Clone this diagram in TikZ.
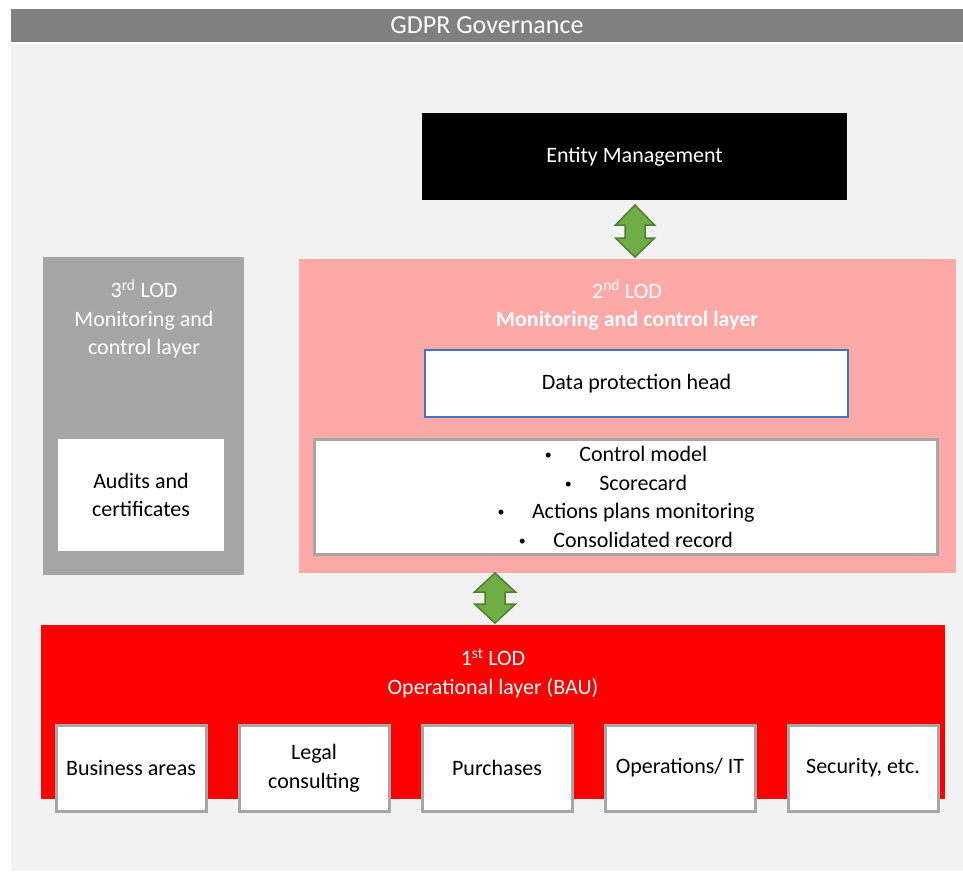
\documentclass[tikz,border=0pt]{standalone}
\usepackage{fontspec}
\setmainfont{Carlito}
\usetikzlibrary{positioning, calc}

\definecolor{titlegray}{HTML}{808080}
\definecolor{backgray}{HTML}{F2F2F2}
\definecolor{lodgray}{HTML}{A6A6A6}
\definecolor{lodpink}{HTML}{FFA8A8}
\definecolor{lodred}{HTML}{FF0000}
\definecolor{framegray}{HTML}{A6A6A6}
\definecolor{headblue}{HTML}{4472C4}
\definecolor{arrowgreen}{HTML}{70AD47}
\definecolor{arrowdark}{HTML}{507E32}

\newcommand{\taskdot}{\raisebox{2pt}{\fontsize{14}{14}\selectfont\textbullet}\hspace{1.25em}}

\begin{document}
\begin{tikzpicture}[x=1pt, y=-1pt,
        font=\fontsize{22}{28.5}\selectfont,
        layer/.style={rectangle, inner sep=0pt, outer sep=0pt, align=center},
        heading/.style={text=white, align=center},
        unit/.style={layer, fill=white, draw=framegray, line width=3pt,
            minimum width=150pt, minimum height=86pt},
        updown/.style={fill=arrowgreen, draw=arrowdark, line width=1.5pt}]
    \useasboundingbox (0,0) rectangle (963,871);

    % frame and title
    \node[layer, fill=backgray, minimum width=952pt, minimum height=827pt] (back) at (487, 457.5) {};
    \node[layer, fill=titlegray, text=white, minimum width=952pt, minimum height=33pt,
        font=\fontsize{26}{28}\selectfont] (title) at (487, 25.5) {GDPR Governance};

    % top management
    \node[layer, fill=black, text=white, minimum width=425pt, minimum height=87pt] (em) at (634.5, 156.5) {Entity Management};

    % 3rd line of defence
    \node[layer, fill=lodgray, minimum width=201pt, minimum height=318pt] (lod3) at (143.5, 416) {};
    \node[heading] (lod3t) at (144, 319) {3\textsuperscript{rd} LOD\\Monitoring and\\control layer};
    \node[layer, fill=white, minimum width=166pt, minimum height=112pt] (audit) at (141, 495) {Audits and\\certificates};

    % 2nd line of defence
    \node[layer, fill=lodpink, minimum width=657pt, minimum height=314pt] (lod2) at (627.5, 416) {};
    \node[heading] (lod2t) at (627, 305) {2\textsuperscript{nd} LOD\\\textbf{Monitoring and control layer}};
    \node[layer, fill=white, draw=headblue, line width=2pt, minimum width=423pt, minimum height=67pt] (dph) at (636.5, 383.5) {Data protection head};
    \node[layer, fill=white, draw=framegray, line width=3pt, minimum width=623pt, minimum height=115pt] (tasks) at (626, 497)
        {\taskdot Control model\\
         \taskdot Scorecard\\
         \taskdot Actions plans monitoring\\
         \taskdot Consolidated record};

    % 1st line of defence
    \node[layer, fill=lodred, minimum width=904pt, minimum height=174pt] (lod1) at (493, 712) {};
    \node[heading] (lod1t) at (493, 673) {1\textsuperscript{st} LOD\\Operational layer (BAU)};
    \foreach \name/\txt [count=\i from 0] in {ba/Business areas, lc/Legal\\consulting,
            pu/Purchases, op/{Operations/ IT}, se/{Security, etc.}}
        \node[unit] (\name) at (131+183*\i, 768) {\txt};

    % double arrows between the layers
    \coordinate (a1t) at ($(em.south)+(0.5,5)$);
    \coordinate (a1b) at ($(a1t |- lod2.north)+(0,-2)$);
    \draw[updown] (a1t) -- ++(19.5,20) -- ++(-9.5,0) -- ++(0,13) -- ++(9.5,0) -- (a1b)
        -- ++(-19.5,-19) -- ++(9.5,0) -- ++(0,-13) -- ++(-9.5,0) -- cycle;

    \coordinate (a2t) at ($(lod2.south -| lod1.north)+(2,0)$);
    \coordinate (a2b) at ($(lod1.north)+(2,-2)$);
    \draw[updown] (a2t) -- ++(20.5,19) -- ++(-10.5,0) -- ++(0,12) -- ++(10.5,0) -- (a2b)
        -- ++(-20.5,-19) -- ++(10.5,0) -- ++(0,-12) -- ++(-10.5,0) -- cycle;
\end{tikzpicture}
\end{document}
